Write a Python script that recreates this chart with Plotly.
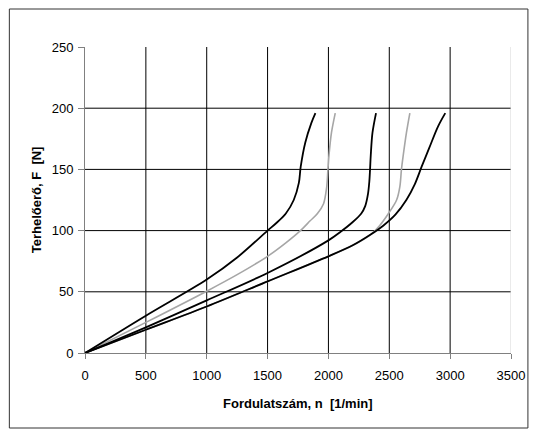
import plotly.graph_objects as go

# ---- data ----
black1_x = [0, 500, 1000, 1250, 1500, 1570, 1650, 1715, 1757, 1772, 1810, 1860, 1893]
black1_y = [0, 30.5, 60, 78, 100, 106, 114, 125, 139, 152, 172, 188, 196]

gray1_x = [0, 500, 1000, 1250, 1500, 1650, 1770, 1850, 1910, 1960, 1985, 1996, 2005, 2025, 2056]
gray1_y = [0, 25, 50.5, 64, 79, 90, 100, 108, 114, 122, 135, 150, 162, 180, 196]

black3_x = [0, 500, 1000, 1500, 2000, 2100, 2200, 2270, 2302, 2325, 2336, 2342, 2348, 2362, 2391]
black3_y = [0, 21, 43, 65.4, 92, 99, 107, 114, 120, 130, 140, 150, 162, 180, 196]

gray2_x = [0, 500, 1000, 1500, 2000, 2200, 2350, 2420, 2500, 2560, 2587, 2600, 2614, 2641, 2669]
gray2_y = [0, 19, 38, 58.5, 79, 88, 97, 104, 115, 125, 136, 150, 161, 180, 196]

black5_x = [0, 500, 1000, 1500, 2000, 2200, 2350, 2450, 2550, 2640, 2710, 2765, 2830, 2900, 2960]
black5_y = [0, 19, 38, 58.5, 79, 88, 97, 104, 113, 125, 138, 152, 168, 185, 196]

x_ticks = [0, 500, 1000, 1500, 2000, 2500, 3000, 3500]
y_ticks = [0, 50, 100, 150, 200, 250]

x_title = "Fordulatszám, n\u00a0 [1/min]"
y_title = "Terhelőerő, F\u00a0 [N]"

FONT = "Liberation Sans, Arial, sans-serif"

fig = go.Figure()

series = [
    (gray1_x, gray1_y, "#a6a6a6", 1.6),
    (gray2_x, gray2_y, "#a6a6a6", 1.6),
    (black1_x, black1_y, "#000000", 1.8),
    (black3_x, black3_y, "#000000", 1.8),
    (black5_x, black5_y, "#000000", 1.8),
]
for xs, ys, col, w in series:
    fig.add_trace(go.Scatter(x=xs, y=ys, mode="lines",
                             line=dict(color=col, width=w, shape="spline", smoothing=0.9),
                             showlegend=False, hoverinfo="skip"))

shapes = []
# horizontal gridlines (no line at 0 or at the top value)
for v in y_ticks[1:-1]:
    shapes.append(dict(type="line", xref="x", yref="y", x0=x_ticks[0], x1=x_ticks[-1],
                       y0=v, y1=v, line=dict(color="#000000", width=1), layer="below"))
# vertical gridlines
for v in x_ticks[1:]:
    col = "#d4d4d4" if v == x_ticks[-1] else "#000000"
    shapes.append(dict(type="line", xref="x", yref="y", x0=v, x1=v,
                       y0=y_ticks[0], y1=y_ticks[-1], line=dict(color=col, width=1), layer="below"))

# outer chart border (in paper coordinates)
W, H = 537, 432
ml, mr, mt, mb = 85, 24, 47, 79
pw, ph = W - ml - mr, H - mt - mb
def px2paper_x(px):
    return (px - ml) / pw
def px2paper_y(py):
    return (H - mb - py) / ph
shapes.append(dict(type="rect", xref="paper", yref="paper",
                   x0=px2paper_x(9), x1=px2paper_x(530),
                   y0=px2paper_y(428), y1=px2paper_y(9),
                   line=dict(color="#333333", width=1), fillcolor="rgba(0,0,0,0)", layer="below"))

fig.update_layout(
    width=W, height=H,
    margin=dict(l=ml, r=mr, t=mt, b=mb),
    paper_bgcolor="white", plot_bgcolor="white",
    font=dict(family=FONT, size=13, color="#000000"),
    shapes=shapes,
    xaxis=dict(range=[x_ticks[0], x_ticks[-1]], tickvals=x_ticks, ticktext=[str(v) for v in x_ticks],
               showgrid=False, zeroline=False, showline=True, linecolor="#808080", linewidth=1,
               ticks="outside", ticklen=5, tickcolor="#808080", tickwidth=1, ticklabelstandoff=5,
               tickfont=dict(family=FONT, size=13)),
    yaxis=dict(range=[y_ticks[0], y_ticks[-1]], tickvals=y_ticks, ticktext=[str(v) for v in y_ticks],
               showgrid=False, zeroline=False, showline=True, linecolor="#808080", linewidth=1,
               ticks="outside", ticklen=6, tickcolor="#808080", tickwidth=1, ticklabelstandoff=2,
               tickfont=dict(family=FONT, size=13)),
    annotations=[
        dict(text="<b>" + x_title + "</b>", xref="paper", yref="paper",
             x=px2paper_x(299), y=px2paper_y(403), xanchor="center", yanchor="middle",
             showarrow=False, font=dict(family=FONT, size=13)),
        dict(text="<b>" + y_title + "</b>", xref="paper", yref="paper",
             x=px2paper_x(36), y=px2paper_y(200), xanchor="center", yanchor="middle",
             textangle=-90, showarrow=False, font=dict(family=FONT, size=13)),
    ],
)

fig.write_html("out.html")
